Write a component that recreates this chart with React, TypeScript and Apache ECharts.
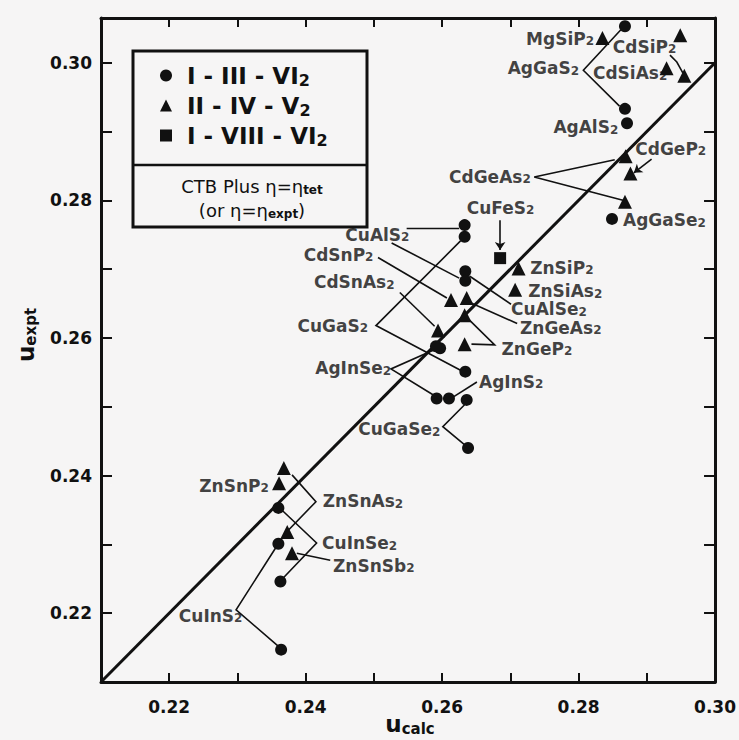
import React, { useEffect, useRef } from "react";
import * as echarts from "echarts";

// ---------- data ----------
const seriesNames = ["I - III - VI2", "II - IV - V2", "I - VIII - VI2"];

const circlePoints: number[][] = [
  [0.2868, 0.3053], [0.2868, 0.2933], [0.2871, 0.2912], [0.2849, 0.2773],
  [0.2633, 0.2764], [0.2633, 0.2747], [0.2634, 0.2697], [0.2634, 0.2683],
  [0.2597, 0.2585], [0.2591, 0.2588], [0.2634, 0.2551], [0.2592, 0.2512],
  [0.2610, 0.2512], [0.2636, 0.2510], [0.2638, 0.2440], [0.2360, 0.2353],
  [0.2360, 0.2301], [0.2363, 0.2246], [0.2364, 0.2147],
];

const trianglePoints: number[][] = [
  [0.2835, 0.3036], [0.2949, 0.3040], [0.2929, 0.2992], [0.2955, 0.2981],
  [0.2869, 0.2864], [0.2876, 0.2839], [0.2868, 0.2798], [0.2712, 0.2701],
  [0.2707, 0.2670], [0.2613, 0.2655], [0.2636, 0.2658], [0.2633, 0.2633],
  [0.2633, 0.2591], [0.2594, 0.2611], [0.2368, 0.2411], [0.2361, 0.2389],
  [0.2373, 0.2318], [0.2380, 0.2287],
];

const squarePoints: number[][] = [[0.2685, 0.2716]];

const diagonal: number[][] = [[0.21, 0.21], [0.30, 0.30]];

const compoundNames = [
  "MgSiP2", "CdSiP2", "AgGaS2", "CdSiAs2", "AgAlS2", "CdGeP2", "CdGeAs2",
  "CuFeS2", "AgGaSe2", "CuAlS2", "CdSnP2", "ZnSiP2", "CdSnAs2", "ZnSiAs2",
  "CuAlSe2", "CuGaS2", "ZnGeAs2", "ZnGeP2", "AgInSe2", "AgInS2", "CuGaSe2",
  "ZnSnP2", "ZnSnAs2", "CuInSe2", "ZnSnSb2", "CuInS2",
];
const compoundLabelX = [
  0.2723, 0.2850, 0.2696, 0.2821, 0.2763, 0.2883, 0.2610,
  0.2636, 0.2865, 0.2458, 0.2397, 0.2729, 0.2412, 0.2726,
  0.2701, 0.2388, 0.2714, 0.2687, 0.2414, 0.2654, 0.2477,
  0.2244, 0.2425, 0.2424, 0.2440, 0.2214,
];
const compoundLabelY = [
  0.3035, 0.3023, 0.2992, 0.2985, 0.2906, 0.2875, 0.2834,
  0.2789, 0.2771, 0.2750, 0.2721, 0.2702, 0.2681, 0.2668,
  0.2642, 0.2618, 0.2615, 0.2584, 0.2556, 0.2536, 0.2467,
  0.2385, 0.2363, 0.2302, 0.2269, 0.2196,
];

const leaderLines: number[][][] = [
  [[0.2862, 0.3048], [0.2807, 0.2989], [0.2860, 0.2937]],
  [[0.2934, 0.3011], [0.2944, 0.3001], [0.2953, 0.2985]],
  [[0.2853, 0.2859], [0.2735, 0.2834], [0.2865, 0.2800]],
  [[0.2548, 0.2759], [0.2625, 0.2759]],
  [[0.2526, 0.2738], [0.2625, 0.2687]],
  [[0.2506, 0.2717], [0.2607, 0.2658]],
  [[0.2538, 0.2666], [0.2589, 0.2617]],
  [[0.2627, 0.2741], [0.2503, 0.2618], [0.2627, 0.2553]],
  [[0.2701, 0.2649], [0.2640, 0.2690]],
  [[0.2710, 0.2621], [0.2640, 0.2652]],
  [[0.2636, 0.2630], [0.2677, 0.2590], [0.2643, 0.2591]],
  [[0.2591, 0.2584], [0.2525, 0.2555], [0.2589, 0.2516]],
  [[0.2651, 0.2536], [0.2616, 0.2514]],
  [[0.2634, 0.2504], [0.2601, 0.2471], [0.2634, 0.2444]],
  [[0.2380, 0.2401], [0.2415, 0.2362], [0.2371, 0.2317]],
  [[0.2365, 0.2350], [0.2416, 0.2302], [0.2366, 0.2250]],
  [[0.2436, 0.2277], [0.2387, 0.2287]],
  [[0.2358, 0.2298], [0.2298, 0.2205], [0.2361, 0.2151]],
];

const arrowLines: number[][][] = [
  [[0.2907, 0.2860], [0.2881, 0.2840]],
  [[0.2685, 0.2771], [0.2685, 0.2728]],
];

const axisMin = 0.21;
const xMax = 0.30;
const yMax = 0.3065;
const tickStep = 0.01;

// ---------- helpers ----------
const INK = "#111111";
const FONT = "DejaVu Sans";

function formula(name: string): string {
  return name.replace(/([^0-9]+)|([0-9]+)/g, (m, a, d) => (a ? `{m|${a}}` : `{s|${d}}`));
}

function tickFmt(v: number): string {
  const k = Math.round(v * 100);
  if (Math.abs(v * 100 - k) > 1e-6) return "";
  return k % 2 === 0 ? (k / 100).toFixed(2) : "";
}

export default function App() {
  const ref = useRef<HTMLDivElement>(null);

  useEffect(() => {
    if (!ref.current) return;
    const chart = echarts.init(ref.current, undefined, { renderer: "svg" });

    const axisCommon = {
      type: "value" as const,
      interval: tickStep,
      splitLine: { show: false },
      axisLine: { show: true, lineStyle: { color: INK, width: 3 } },
    };

    const labelRich = {
      m: { fontFamily: FONT, fontWeight: "bold", fontSize: 17, lineHeight: 17, color: INK },
      s: { fontFamily: FONT, fontWeight: "bold", fontSize: 12, lineHeight: 9, verticalAlign: "bottom", color: INK },
    };

    const markerStyle = { color: INK, opacity: 1 };

    const option: any = {
      animation: false,
      backgroundColor: "#f6f5f5",
      grid: { left: 101, right: 20, top: 18, bottom: 58 },
      xAxis: [
        {
          ...axisCommon,
          position: "bottom",
          min: axisMin,
          max: xMax,
          axisTick: { show: true, inside: true, length: 9, lineStyle: { color: INK, width: 2 } },
          axisLabel: {
            formatter: tickFmt,
            margin: 16,
            color: INK,
            fontFamily: FONT,
            fontWeight: "bold",
            fontSize: 17,
            showMinLabel: true,
            showMaxLabel: true,
          },
        },
        {
          ...axisCommon,
          position: "top",
          min: axisMin,
          max: xMax,
          axisTick: { show: true, inside: true, length: 9, lineStyle: { color: INK, width: 2 } },
          axisLabel: { show: false },
        },
      ],
      yAxis: [
        {
          ...axisCommon,
          position: "left",
          min: axisMin,
          max: yMax,
          axisTick: { show: true, inside: true, length: 11, lineStyle: { color: INK, width: 2 } },
          axisLabel: {
            formatter: tickFmt,
            margin: 9,
            color: INK,
            fontFamily: FONT,
            fontWeight: "bold",
            fontSize: 17,
          },
        },
        {
          ...axisCommon,
          position: "right",
          min: axisMin,
          max: yMax,
          axisTick: { show: true, inside: true, length: 11, lineStyle: { color: INK, width: 2 } },
          axisLabel: { show: false },
        },
      ],
      legend: {
        data: seriesNames,
        orient: "vertical",
        left: 155,
        top: 58,
        itemWidth: 12,
        itemHeight: 12,
        itemGap: 5,
        formatter: (n: string) => formula(n),
        textStyle: {
          color: INK,
          fontFamily: FONT,
          fontWeight: "bold",
          fontSize: 23,
          lineHeight: 25,
          padding: [0, 0, 0, 10],
          rich: {
            m: { fontFamily: FONT, fontWeight: "bold", fontSize: 23, lineHeight: 25, color: INK },
            s: { fontFamily: FONT, fontWeight: "bold", fontSize: 16, lineHeight: 16, verticalAlign: "bottom", color: INK },
          },
        },
      },
      series: [
        {
          type: "line",
          data: diagonal,
          symbol: "none",
          silent: true,
          lineStyle: { color: INK, width: 3 },
          z: 2,
        },
        {
          type: "lines",
          coordinateSystem: "cartesian2d",
          polyline: true,
          silent: true,
          data: leaderLines.map((c) => ({ coords: c })),
          lineStyle: { color: INK, width: 1.6, opacity: 1 },
          z: 3,
        },
        {
          type: "lines",
          coordinateSystem: "cartesian2d",
          silent: true,
          symbol: ["none", "arrow"],
          symbolSize: 8,
          data: arrowLines.map((c) => ({ coords: c })),
          lineStyle: { color: INK, width: 1.6, opacity: 1 },
          z: 3,
        },
        {
          name: seriesNames[0],
          type: "scatter",
          symbol: "circle",
          symbolSize: 12,
          data: circlePoints,
          itemStyle: markerStyle,
          z: 4,
        },
        {
          name: seriesNames[1],
          type: "scatter",
          symbol: "triangle",
          symbolSize: 14,
          data: trianglePoints,
          itemStyle: markerStyle,
          z: 4,
        },
        {
          name: seriesNames[2],
          type: "scatter",
          symbol: "rect",
          symbolSize: 12,
          data: squarePoints,
          itemStyle: markerStyle,
          z: 4,
        },
        {
          type: "scatter",
          symbolSize: 0.1,
          silent: true,
          itemStyle: { color: "rgba(0,0,0,0)" },
          data: compoundNames.map((n, i) => ({ name: n, value: [compoundLabelX[i], compoundLabelY[i]] })),
          label: {
            show: true,
            position: "right",
            distance: 0,
            formatter: (p: any) => formula(p.name),
            rich: labelRich,
            color: INK,
          },
          labelLayout: { hideOverlap: false },
          z: 5,
        },
      ],
      graphic: [
        {
          type: "rect",
          shape: { x: 133, y: 51, width: 234, height: 176 },
          style: { fill: "transparent", stroke: INK, lineWidth: 3 },
          z: 10,
        },
        {
          type: "line",
          shape: { x1: 133, y1: 165, x2: 367, y2: 165 },
          style: { stroke: INK, lineWidth: 2.5 },
          z: 10,
        },
        {
          type: "text",
          x: 252,
          y: 186,
          style: {
            text: "{m|CTB Plus η=η}{s|tet}",
            align: "center",
            verticalAlign: "middle",
            fill: INK,
            rich: {
              m: { fontFamily: FONT, fontSize: 18, fontWeight: "normal", lineHeight: 20, fill: INK, color: INK },
              s: { fontFamily: FONT, fontSize: 12, fontWeight: "bold", lineHeight: 13, verticalAlign: "bottom", fill: INK, color: INK },
            },
          },
          z: 10,
        },
        {
          type: "text",
          x: 252,
          y: 210,
          style: {
            text: "{m|(or η=η}{s|expt}{m|)}",
            align: "center",
            verticalAlign: "middle",
            fill: INK,
            rich: {
              m: { fontFamily: FONT, fontSize: 18, fontWeight: "normal", lineHeight: 20, fill: INK, color: INK },
              s: { fontFamily: FONT, fontSize: 12, fontWeight: "bold", lineHeight: 13, verticalAlign: "bottom", fill: INK, color: INK },
            },
          },
          z: 10,
        },
        {
          type: "text",
          x: 410,
          y: 724,
          style: {
            text: "{u|u}{s|calc}",
            align: "center",
            verticalAlign: "middle",
            fill: INK,
            rich: {
              u: { fontFamily: FONT, fontSize: 23, fontWeight: "bold", lineHeight: 24, fill: INK, color: INK },
              s: { fontFamily: FONT, fontSize: 15, fontWeight: "bold", lineHeight: 16, verticalAlign: "bottom", fill: INK, color: INK },
            },
          },
          z: 10,
        },
        {
          type: "text",
          x: 26,
          y: 335,
          rotation: Math.PI / 2,
          style: {
            text: "{u|u}{s|expt}",
            align: "center",
            verticalAlign: "middle",
            fill: INK,
            rich: {
              u: { fontFamily: FONT, fontSize: 23, fontWeight: "bold", lineHeight: 24, fill: INK, color: INK },
              s: { fontFamily: FONT, fontSize: 15, fontWeight: "bold", lineHeight: 16, verticalAlign: "bottom", fill: INK, color: INK },
            },
          },
          z: 10,
        },
      ],
    };

    chart.setOption(option);
    return () => chart.dispose();
  }, []);

  return (
    <div
      ref={ref}
      style={{ position: "absolute", left: 0, top: 0, width: 739, height: 740 }}
    />
  );
}
